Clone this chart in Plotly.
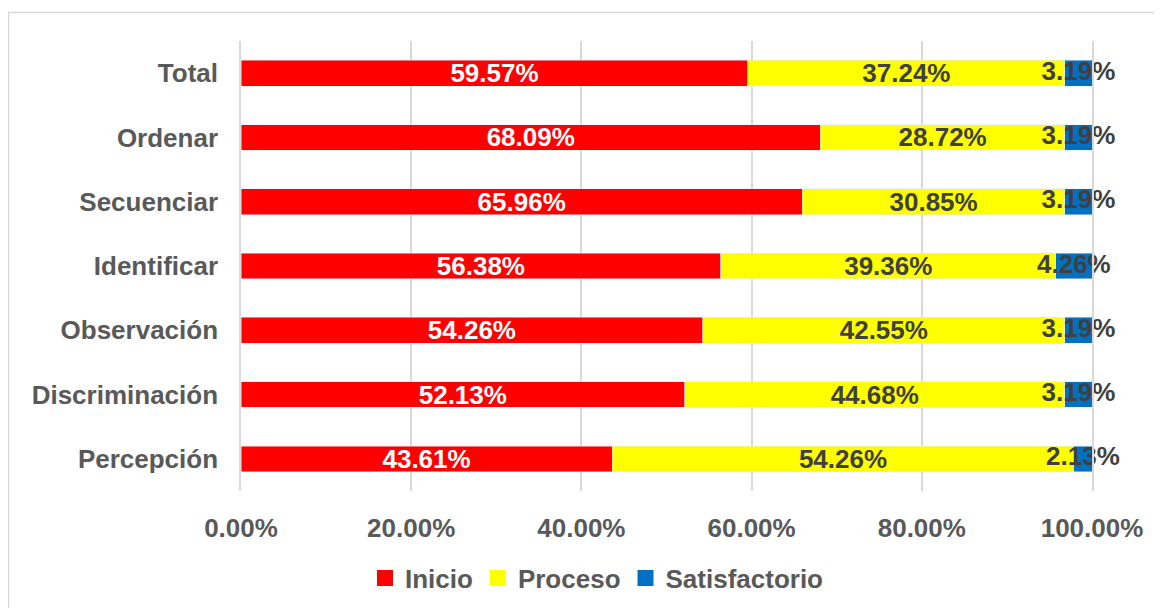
import plotly.graph_objects as go

categorias = ['Total', 'Ordenar', 'Secuenciar', 'Identificar', 'Observación', 'Discriminación', 'Percepción']
inicio = [59.57, 68.09, 65.96, 56.38, 54.26, 52.13, 43.61]
proceso = [37.24, 28.72, 30.85, 39.36, 42.55, 44.68, 54.26]
satisfactorio = [3.19, 3.19, 3.19, 4.26, 3.19, 3.19, 2.13]

series = [('Inicio', inicio, '#FF0000', 'white'),
          ('Proceso', proceso, '#FFFF00', '#404040'),
          ('Satisfactorio', satisfactorio, '#0070C0', '#404040')]

fuente = 'Arial, Liberation Sans, sans-serif'
gris = '#595959'
tam = 26

fig = go.Figure()
for nombre, valores, color, color_txt in series:
    fig.add_trace(go.Bar(y=categorias, x=valores, name=nombre, orientation='h',
                         marker_color=color, showlegend=False,
                         texttemplate='%{x:.2f}%' if nombre != 'Satisfactorio' else None,
                         textposition='inside' if nombre != 'Satisfactorio' else 'none',
                         insidetextanchor='middle', textangle=0, constraintext='none',
                         textfont=dict(color=color_txt, size=tam, family=fuente, weight='bold')))

# etiquetas de Satisfactorio centradas en su segmento (desbordan la barra)
centro_sat = [a + b + c / 2 for a, b, c in zip(inicio, proceso, satisfactorio)]
fig.add_trace(go.Scatter(x=centro_sat, y=categorias, mode='text', showlegend=False,
                         text=[f'{v:.2f}%' for v in satisfactorio], cliponaxis=False,
                         textposition='middle center',
                         textfont=dict(color='#404040', size=tam, family=fuente, weight='bold'),
                         hoverinfo='skip'))

# leyenda con cuadrados
for nombre, valores, color, color_txt in series:
    fig.add_trace(go.Scatter(x=[None], y=[None], mode='markers', name=nombre,
                             marker=dict(symbol='square', size=16, color=color)))

W, H = 1154, 600
fig.update_layout(
    barmode='stack', bargap=0.6,
    width=W, height=H,
    margin=dict(l=233, r=70, t=33, b=117),
    paper_bgcolor='white', plot_bgcolor='white',
    font=dict(family=fuente, size=tam, color=gris, weight='bold'),
    uniformtext=dict(minsize=tam, mode='show'),
    showlegend=True,
    legend=dict(orientation='h', xref='container', yref='container',
                x=589 / W, xanchor='center', y=1 - 570 / H, yanchor='middle',
                font=dict(size=tam, color=gris, family=fuente, weight='bold'),
                traceorder='normal', itemwidth=30, tracegroupgap=0),
    shapes=[dict(type='rect', xref='paper', yref='paper',
                 x0=(8.5 - 241) / 851, x1=1.3, y0=-0.5, y1=(491 - 12.5) / 450,
                 line=dict(color='#d9d9d9', width=1.5), fillcolor='rgba(0,0,0,0)',
                 layer='below')],
)
fig.update_xaxes(range=[0, 100], dtick=20, tickformat='.2f', ticksuffix='%',
                 showgrid=True, gridcolor='#d9d9d9', gridwidth=1.5,
                 zeroline=False, ticks='', ticklabelstandoff=19, automargin=False,
                 tickfont=dict(size=tam, color=gris, family=fuente, weight='bold'))
fig.update_yaxes(autorange='reversed', showgrid=False, ticks='', ticklabelstandoff=16,
                 automargin=False, showline=True, mirror=True,
                 linecolor='#d9d9d9', linewidth=1.5,
                 tickfont=dict(size=tam, color=gris, family=fuente, weight='bold'))

fig.write_html('out.html')
